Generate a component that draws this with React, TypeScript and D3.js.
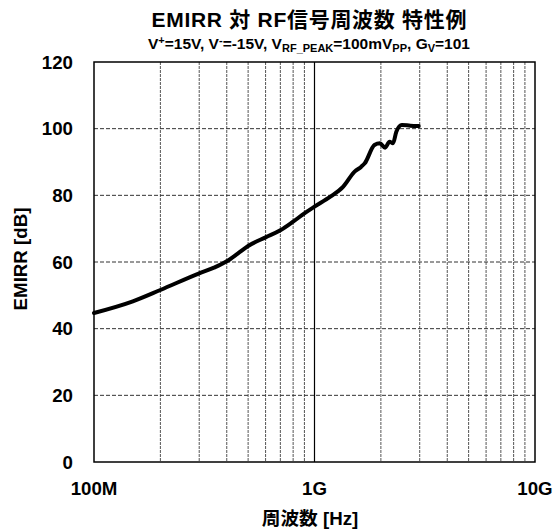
import React from "react";
import * as d3 from "d3";

// frequency [Hz] vs EMIRR [dB]
const freqHz = [
  1.0e8, 1.5e8, 2.0e8, 3.0e8, 3.5e8, 4.0e8, 4.5e8, 5.0e8, 6.0e8, 7.0e8, 8.0e8,
  9.0e8, 1.0e9, 1.18e9, 1.35e9, 1.52e9, 1.63e9, 1.69e9, 1.87e9, 1.98e9,
  2.09e9, 2.19e9, 2.27e9, 2.35e9, 2.49e9, 2.72e9, 2.97e9,
];
const emirrDb = [
  44.7, 48.2, 51.6, 56.6, 58.3, 60.2, 62.6, 64.8, 67.4, 69.5, 72.1,
  74.6, 76.6, 79.6, 82.6, 87.1, 88.6, 89.6, 95.1, 95.6,
  94.3, 96.1, 95.6, 99.1, 101.1, 100.9, 100.8,
];

const yTicks = [0, 20, 40, 60, 80, 100, 120];
const xTicks = [1e8, 1e9, 1e10];
const xTickLabels = ["100M", "1G", "10G"];

const W = 555;
const H = 532;
const left = 94;
const right = 535;
const top = 62;
const bottom = 462;

const font = "'Liberation Sans', Arial, 'Noto Sans CJK JP', sans-serif";
const big = 18.7;

export default function App() {
  const x = d3.scaleLog().domain([1e8, 1e10]).range([left, right]);
  const y = d3.scaleLinear().domain([0, 120]).range([bottom, top]);

  const minor: number[] = [];
  for (const dec of [1e8, 1e9]) {
    for (let k = 2; k <= 9; k++) minor.push(dec * k);
  }

  const line = d3
    .line<number>()
    .x((_, i) => x(freqHz[i]))
    .y((d) => y(d))
    .curve(d3.curveMonotoneX);

  return (
    <svg width={W} height={H} style={{ position: "absolute", left: 0, top: 0 }}>
      <rect width={W} height={H} fill="#fff" />
      {/* title */}
      <text
        x={309}
        y={27}
        textAnchor="middle"
        fontFamily={font}
        fontWeight="bold"
        fontSize={21}
        textLength={315}
        lengthAdjust="spacing"
      >
        EMIRR 対 RF信号周波数 特性例
      </text>
      <text x={309} y={49} textAnchor="middle" fontFamily={font} fontWeight="bold" fontSize={15.5}>
        <tspan>V</tspan>
        <tspan fontSize={11} dy={-5}>+</tspan>
        <tspan dy={5}>=15V, V</tspan>
        <tspan fontSize={11} dy={-5}>-</tspan>
        <tspan dy={5}>=-15V, V</tspan>
        <tspan fontSize={11} dy={3}>RF_PEAK</tspan>
        <tspan dy={-3}>=100mV</tspan>
        <tspan fontSize={11} dy={3}>PP</tspan>
        <tspan dy={-3}>, G</tspan>
        <tspan fontSize={11} dy={3}>V</tspan>
        <tspan dy={-3}>=101</tspan>
      </text>

      {/* minor vertical grid */}
      {minor.map((f) => (
        <line key={f} x1={x(f)} x2={x(f)} y1={top} y2={bottom} stroke="#555" strokeWidth={1} strokeDasharray="3,1" />
      ))}
      {/* horizontal grid */}
      {yTicks.slice(1, -1).map((v) => (
        <line key={v} x1={left} x2={right} y1={y(v)} y2={y(v)} stroke="#333" strokeWidth={1} strokeDasharray="4,2" />
      ))}
      {/* major vertical */}
      <line x1={x(1e9)} x2={x(1e9)} y1={top} y2={bottom} stroke="#000" strokeWidth={1.2} />

      <path d={line(emirrDb) ?? ""} fill="none" stroke="#000" strokeWidth={4} strokeLinejoin="round" strokeLinecap="round" />

      <rect x={left} y={top} width={right - left} height={bottom - top} fill="none" stroke="#000" strokeWidth={1.5} />

      {yTicks.map((v) => (
        <text key={v} x={73} y={y(v) + 6.5} textAnchor="end" fontFamily={font} fontWeight="bold" fontSize={big}>
          {v}
        </text>
      ))}
      {xTicks.map((f, i) => (
        <text key={f} x={x(f)} y={495} textAnchor="middle" fontFamily={font} fontWeight="bold" fontSize={big}>
          {xTickLabels[i]}
        </text>
      ))}
      <text x={310} y={525} textAnchor="middle" fontFamily={font} fontWeight="bold" fontSize={big}>
        周波数 [Hz]
      </text>
      <text
        transform={`translate(27,259) rotate(-90)`}
        textAnchor="middle"
        fontFamily={font}
        fontWeight="bold"
        fontSize={big}
      >
        EMIRR [dB]
      </text>
    </svg>
  );
}
